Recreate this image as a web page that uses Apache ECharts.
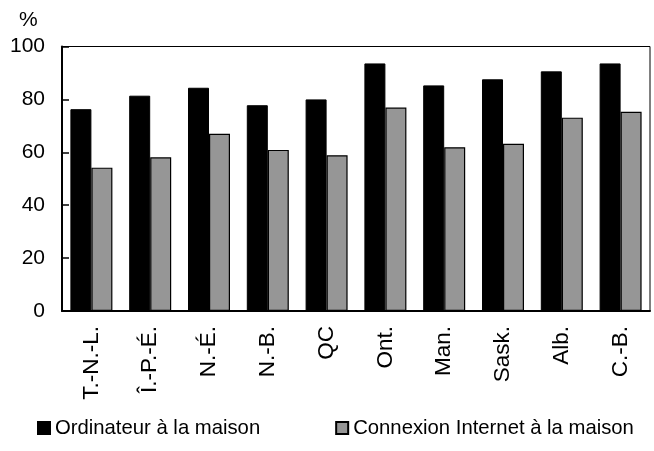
<!DOCTYPE html>
<html>
<head>
<meta charset="utf-8">
<script src="https://cdn.jsdelivr.net/npm/echarts@6/dist/echarts.min.js"></script>
<style>
  html, body { margin: 0; padding: 0; background: #fff; }
  #chart { width: 654px; height: 451px; }
</style>
</head>
<body>
<div id="chart"></div>
<script>
// Provinces (abbreviated French names)
const provinces = ['T.-N.-L.', 'Î.-P.-É.', 'N.-É.', 'N.-B.', 'QC', 'Ont.', 'Man.', 'Sask.', 'Alb.', 'C.-B.'];

// Share of households (%)
const computerAtHome = [76.3, 81.4, 84.4, 77.8, 80.0, 93.6, 85.3, 87.6, 90.6, 93.6];
const internetAtHome = [54.2, 58.1, 67.0, 60.9, 58.9, 76.9, 61.9, 63.2, 73.1, 75.3];

const seriesNames = ['Ordinateur à la maison', 'Connexion Internet à la maison'];
const yTicks = [0, 20, 40, 60, 80, 100];

const FONT = 'Liberation Sans, Arial, sans-serif';
const chart = echarts.init(document.getElementById('chart'), null, { renderer: 'canvas' });

chart.setOption({
  animation: false,
  backgroundColor: '#ffffff',
  textStyle: { fontFamily: FONT, color: '#000' },
  title: {
    text: '%',
    left: 14,
    top: 5,
    textStyle: { fontFamily: FONT, fontSize: 21, fontWeight: 'normal', color: '#000' }
  },
  grid: {
    left: 62, right: 4, top: 46.5, bottom: 140,
    show: true, borderColor: '#000', borderWidth: 1, backgroundColor: 'transparent'
  },
  legend: {
    left: 32,
    top: 413,
    itemWidth: 12,
    itemHeight: 12,
    itemGap: 75,
    icon: 'rect',
    textStyle: { fontFamily: FONT, fontSize: 20.3, color: '#000' },
    data: seriesNames
  },
  xAxis: {
    type: 'category',
    data: provinces,
    axisLine: { show: true, lineStyle: { color: '#000', width: 2 } },
    axisTick: { show: false },
    axisLabel: {
      rotate: 90,
      margin: 15,
      fontFamily: FONT,
      fontSize: 22.5,
      color: '#000'
    },
    splitLine: { show: false }
  },
  yAxis: {
    type: 'value',
    min: yTicks[0],
    max: yTicks[yTicks.length - 1],
    interval: 20,
    axisLine: { show: true, lineStyle: { color: '#000', width: 2 } },
    axisTick: { show: true, inside: true, length: 7, lineStyle: { color: '#000', width: 1.5 } },
    axisLabel: { margin: 17, fontFamily: FONT, fontSize: 21, color: '#000' },
    splitLine: { show: false }
  },
  series: [
    {
      name: seriesNames[0],
      type: 'bar',
      data: computerAtHome,
      barWidth: 21,
      barGap: '0%',
      itemStyle: { color: '#000000', borderColor: '#000', borderWidth: 1 }
    },
    {
      name: seriesNames[1],
      type: 'bar',
      data: internetAtHome,
      barWidth: 21,
      barGap: '0%',
      itemStyle: { color: '#969696', borderColor: '#000', borderWidth: 1.2 }
    }
  ]
});
</script>
</body>
</html>
